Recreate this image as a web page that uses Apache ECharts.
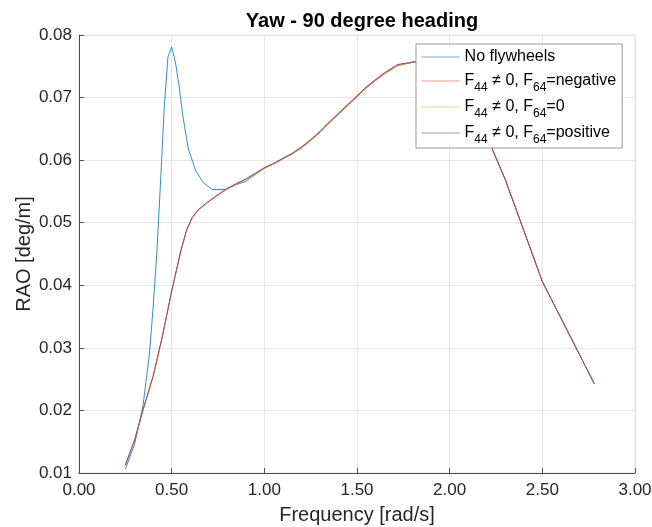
<!DOCTYPE html>
<html>
<head>
<meta charset="utf-8">
<script src="https://cdn.jsdelivr.net/npm/echarts@6/dist/echarts.min.js"></script>
<style>
html,body{margin:0;padding:0;background:#fff;}
#chart{width:652px;height:527px;}
</style>
</head>
<body>
<div id="chart"></div>
<script>
// ---- data ----
const titleText = 'Yaw - 90 degree heading';
const xName = 'Frequency [rad/s]';
const yName = 'RAO [deg/m]';
const seriesNames = ['No flywheels', 'F44 \u2260 0, F64=negative', 'F44 \u2260 0, F64=0', 'F44 \u2260 0, F64=positive'];
const seriesColors = ['#0072BD', '#D95319', '#EDB120', '#7E2F8E'];

const freqNoFly = [0.25, 0.30, 0.345, 0.38, 0.40, 0.42, 0.44, 0.46, 0.48, 0.50, 0.52, 0.54, 0.56, 0.59, 0.63, 0.67, 0.72, 0.79, 0.85, 0.90, 0.95, 1.00, 1.05, 1.10, 1.15, 1.20, 1.25, 1.30, 1.35, 1.40, 1.45, 1.50, 1.55, 1.60, 1.65, 1.72, 1.81, 1.93, 2.09, 2.30, 2.50, 2.78];
const raoNoFly  = [0.0106, 0.0146, 0.0207, 0.0290, 0.0365, 0.0452, 0.0565, 0.0685, 0.0765, 0.0781, 0.0757, 0.0719, 0.0671, 0.0618, 0.0583, 0.0564, 0.0553, 0.0553, 0.0561, 0.0566, 0.0577, 0.0587, 0.0594, 0.0602, 0.0610, 0.0620, 0.0632, 0.0645, 0.0660, 0.0674, 0.0688, 0.0702, 0.0716, 0.0728, 0.0739, 0.0752, 0.0757, 0.0760, 0.0715, 0.0569, 0.0406, 0.0243];

const freqF44 = [0.25, 0.30, 0.35, 0.40, 0.45, 0.50, 0.55, 0.58, 0.61, 0.64, 0.68, 0.73, 0.79, 0.85, 0.90, 0.95, 1.00, 1.05, 1.10, 1.15, 1.20, 1.25, 1.30, 1.35, 1.40, 1.45, 1.50, 1.55, 1.60, 1.65, 1.72, 1.81, 1.93, 2.09, 2.30, 2.50, 2.78];
const raoNeg  = [0.0112, 0.0152, 0.0205, 0.0254, 0.0318, 0.0390, 0.0455, 0.0487, 0.0507, 0.0519, 0.0529, 0.0540, 0.0552, 0.0562, 0.0569, 0.0578, 0.0587, 0.0594, 0.0602, 0.0610, 0.0619, 0.0631, 0.0644, 0.0659, 0.0673, 0.0687, 0.0701, 0.0715, 0.0727, 0.0738, 0.0751, 0.0757, 0.0760, 0.0715, 0.0569, 0.0406, 0.0243];
const raoZero = [0.0112, 0.0152, 0.0205, 0.0254, 0.0318, 0.0390, 0.0455, 0.0487, 0.0507, 0.0519, 0.0529, 0.0540, 0.0552, 0.0562, 0.0569, 0.0578, 0.0587, 0.0594, 0.0602, 0.0610, 0.0620, 0.0632, 0.0645, 0.0660, 0.0674, 0.0688, 0.0702, 0.0716, 0.0728, 0.0739, 0.0752, 0.0757, 0.0760, 0.0715, 0.0569, 0.0406, 0.0243];
const raoPos  = [0.0113, 0.0153, 0.0206, 0.0255, 0.0319, 0.0391, 0.0456, 0.0488, 0.0508, 0.0520, 0.0530, 0.0541, 0.0553, 0.0563, 0.0570, 0.0579, 0.0588, 0.0595, 0.0603, 0.0611, 0.0621, 0.0633, 0.0646, 0.0661, 0.0675, 0.0689, 0.0703, 0.0717, 0.0729, 0.0740, 0.0753, 0.0757, 0.0760, 0.0715, 0.0569, 0.0406, 0.0243];

const xMin = 0, xMax = 3, xStep = 0.5;
const yMin = 0.01, yMax = 0.08, yStep = 0.01;

// ---- chart ----
const FONT = '"Liberation Sans", Arial, Helvetica, sans-serif';
const pairs = (xs, ys) => xs.map((x, i) => [x, ys[i]]);
const allY = [raoNoFly, raoNeg, raoZero, raoPos];
const allX = [freqNoFly, freqF44, freqF44, freqF44];

const chart = echarts.init(document.getElementById('chart'), null, {renderer: 'canvas'});
const axisColor = '#4d4d4d';
const option = {
  animation: false,
  backgroundColor: '#fff',
  title: {
    text: titleText, left: 357, top: 6, textAlign: 'center',
    textStyle: {fontFamily: FONT, fontSize: 20, fontWeight: 'bold', color: '#000'}
  },
  grid: {left: 79, right: 17, top: 35, bottom: 54, show: true, borderColor: '#e3e3e3', borderWidth: 1,
         backgroundColor: 'transparent', containLabel: false, outerBoundsMode: 'none'},
  xAxis: {
    type: 'value', min: xMin, max: xMax, interval: xStep,
    name: xName, nameLocation: 'middle', nameGap: 32, nameMoveOverlap: false,
    nameTextStyle: {fontFamily: FONT, fontSize: 20, color: '#262626'},
    axisLine: {show: true, onZero: false, lineStyle: {color: axisColor, width: 1}},
    axisTick: {show: true, inside: true, length: 5, lineStyle: {color: axisColor}},
    axisLabel: {fontFamily: FONT, fontSize: 17, color: '#262626', margin: 9, formatter: v => v.toFixed(2)},
    splitLine: {show: true, lineStyle: {color: '#e6e6e6', width: 1}}
  },
  yAxis: {
    type: 'value', min: yMin, max: yMax, interval: yStep,
    name: yName, nameLocation: 'middle', nameGap: 45, nameRotate: 90, nameMoveOverlap: false,
    nameTextStyle: {fontFamily: FONT, fontSize: 20, color: '#262626'},
    axisLine: {show: true, onZero: false, lineStyle: {color: axisColor, width: 1}},
    axisTick: {show: true, inside: true, length: 5, lineStyle: {color: axisColor}},
    axisLabel: {fontFamily: FONT, fontSize: 17, color: '#262626', margin: 7, formatter: v => v.toFixed(2)},
    splitLine: {show: true, lineStyle: {color: '#e6e6e6', width: 1}}
  },
  legend: {
    orient: 'vertical', left: 416, top: 44, z: 20,
    backgroundColor: '#fff', borderColor: '#999', borderWidth: 1, borderRadius: 0,
    padding: [2, 6, 2, 5], itemGap: 0, itemWidth: 38, itemHeight: 14,
    itemStyle: {opacity: 0},
    lineStyle: {width: 1.2, opacity: 0.55},
    data: seriesNames,
    formatter: name => name.replace(/F(\d\d)/g, 'F{sub|$1}'),
    textStyle: {
      fontFamily: FONT, fontSize: 16, color: '#000', lineHeight: 22,
      rich: {sub: {fontFamily: FONT, fontSize: 12, lineHeight: 12, padding: [14, 0, 0, 0], color: '#000'}}
    }
  },
  series: seriesNames.map((n, i) => ({
    name: n, type: 'line', data: pairs(allX[i], allY[i]),
    showSymbol: false, symbol: 'none', smooth: false,
    lineStyle: {color: seriesColors[i], width: 1, opacity: 0.8},
    itemStyle: {color: seriesColors[i]},
    z: 2, zlevel: 0
  }))
};
chart.setOption(option);
</script>
</body>
</html>
